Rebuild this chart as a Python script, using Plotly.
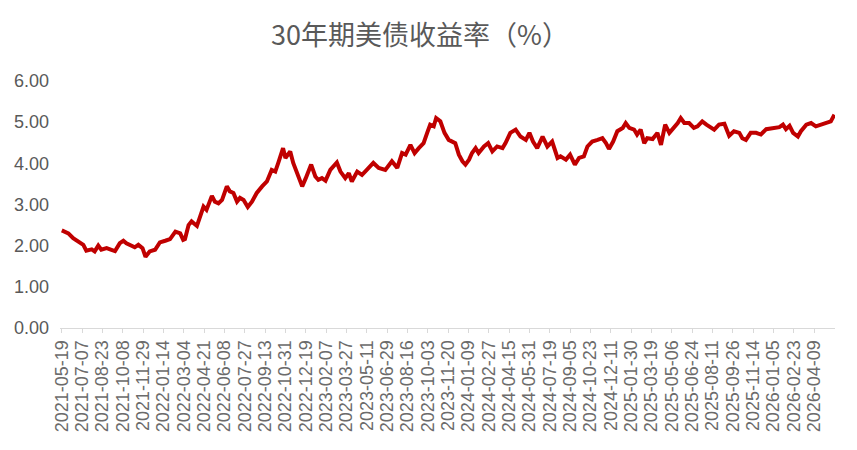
import plotly.graph_objects as go

# Trading-day index of each reading (0 = 2021-05-19) and 30Y UST yield (%)
day_index = [
    0, 11, 19, 27, 36, 41, 50, 55, 61, 66, 75, 83, 89, 97, 103, 108, 114, 122, 128, 135,
    140, 147, 156, 164, 173, 181, 190, 198, 203, 206, 212, 217, 226, 231, 237, 242, 251, 256,
    262, 268, 276, 281, 287, 293, 298, 304, 311, 318, 326, 335, 343, 351, 357, 362, 370, 374,
    382, 387, 393, 402, 408, 417, 424, 429, 435, 441, 449, 460, 466, 474, 480, 485, 494, 502,
    510, 521, 530, 541, 552, 561, 569, 575, 583, 590, 597, 605, 611, 616, 622, 626, 633, 640,
    647, 658, 664, 670, 675, 681, 686, 692, 697, 706, 713, 720, 728, 737, 742, 750, 759, 767,
    776, 782, 788, 795, 804, 812, 820, 829, 834, 843, 850, 858, 865, 873, 879, 887, 896, 904,
    910, 915, 922, 929, 938, 943, 949, 957, 962, 968, 974, 979, 988, 996, 1002, 1009, 1016,
    1024, 1030, 1035, 1041, 1049, 1057, 1063, 1071, 1078, 1085, 1091, 1099, 1108, 1116, 1124,
    1133, 1138, 1144, 1152, 1161, 1169, 1178, 1189, 1200, 1206, 1211, 1217, 1223, 1231, 1236,
    1245, 1253, 1261, 1270, 1278, 1286, 1292,
]
yield_pct = [
    2.37, 2.30, 2.18, 2.10, 2.02, 1.88, 1.91, 1.86, 2.00, 1.90, 1.94, 1.90, 1.87, 2.06, 2.12, 2.06, 2.02, 1.96, 2.02, 1.94,
    1.73, 1.86, 1.90, 2.08, 2.12, 2.16, 2.34, 2.30, 2.14, 2.16, 2.50, 2.59, 2.48, 2.71, 2.95, 2.87, 3.21, 3.07,
    3.03, 3.11, 3.44, 3.32, 3.28, 3.07, 3.16, 3.11, 2.94, 3.07, 3.28, 3.44, 3.56, 3.84, 3.80, 4.01, 4.37, 4.13,
    4.29, 4.01, 3.80, 3.44, 3.64, 3.97, 3.68, 3.60, 3.64, 3.58, 3.84, 4.02, 3.80, 3.64, 3.76, 3.56, 3.80, 3.72,
    3.84, 4.01, 3.89, 3.84, 4.05, 3.89, 4.25, 4.21, 4.45, 4.25, 4.37, 4.49, 4.74, 4.94, 4.90, 5.10, 5.02, 4.74,
    4.57, 4.49, 4.21, 4.05, 3.97, 4.09, 4.25, 4.37, 4.25, 4.41, 4.49, 4.29, 4.41, 4.37, 4.49, 4.74, 4.82, 4.65,
    4.57, 4.74, 4.53, 4.37, 4.65, 4.41, 4.53, 4.13, 4.17, 4.09, 4.21, 3.97, 4.13, 4.17, 4.41, 4.53, 4.57, 4.61,
    4.49, 4.35, 4.53, 4.78, 4.86, 4.98, 4.86, 4.82, 4.70, 4.82, 4.49, 4.61, 4.59, 4.74, 4.45, 4.94, 4.74,
    4.86, 4.98, 5.10, 4.98, 4.98, 4.86, 4.90, 5.02, 4.94, 4.86, 4.82, 4.94, 4.96, 4.67, 4.78,
    4.74, 4.61, 4.57, 4.74, 4.74, 4.70, 4.83, 4.86, 4.88, 4.94, 4.83, 4.91, 4.74, 4.65, 4.78,
    4.94, 4.98, 4.90, 4.94, 4.98, 5.02, 5.18,
]

tick_step = 34
tick_labels = [
    "2021-05-19", "2021-07-07", "2021-08-23", "2021-10-08", "2021-11-29",
    "2022-01-14", "2022-03-04", "2022-04-21", "2022-06-08", "2022-07-27",
    "2022-09-13", "2022-10-31", "2022-12-19", "2023-02-07", "2023-03-27",
    "2023-05-11", "2023-06-29", "2023-08-16", "2023-10-03", "2023-11-20",
    "2024-01-09", "2024-02-27", "2024-04-15", "2024-05-31", "2024-07-19",
    "2024-09-05", "2024-10-23", "2024-12-11", "2025-01-30", "2025-03-19",
    "2025-05-06", "2025-06-24", "2025-08-11", "2025-09-26", "2025-11-14",
    "2026-01-05", "2026-02-23", "2026-04-09",
]
tick_positions = [i * tick_step for i in range(len(tick_labels))]

fig = go.Figure()
fig.add_trace(go.Scatter(
    x=day_index, y=yield_pct, mode="lines",
    line=dict(color="#C00000", width=4),
    hoverinfo="skip", showlegend=False,
))

fig.update_layout(
    width=857, height=450,
    margin=dict(l=60, r=22, t=81, b=122),
    paper_bgcolor="white", plot_bgcolor="white",
    title=dict(
        text="30年期美债收益率（%）",
        font=dict(family="Noto Sans CJK SC", size=27, color="#595959"),
        x=420 / 857, xref="container", xanchor="center",
        y=1 - 36 / 450, yref="container", yanchor="middle",
    ),
    xaxis=dict(
        range=[-3, 1293],
        tickmode="array", tickvals=tick_positions, ticktext=tick_labels,
        tickangle=-90,
        tickfont=dict(family="Liberation Sans", size=18, color="#6b6b6b"),
        showgrid=False, zeroline=False,
        showline=True, linecolor="#d9d9d9", linewidth=1,
        ticks="outside", ticklen=4, tickcolor="#d9d9d9",
    ),
    yaxis=dict(
        range=[0, 6], dtick=1, tickformat=".2f",
        tickfont=dict(family="Liberation Sans", size=18, color="#595959"),
        showgrid=False, zeroline=False, showline=False,
        ticks="", ticklabelstandoff=10,
    ),
)

fig.write_html("out.html")
